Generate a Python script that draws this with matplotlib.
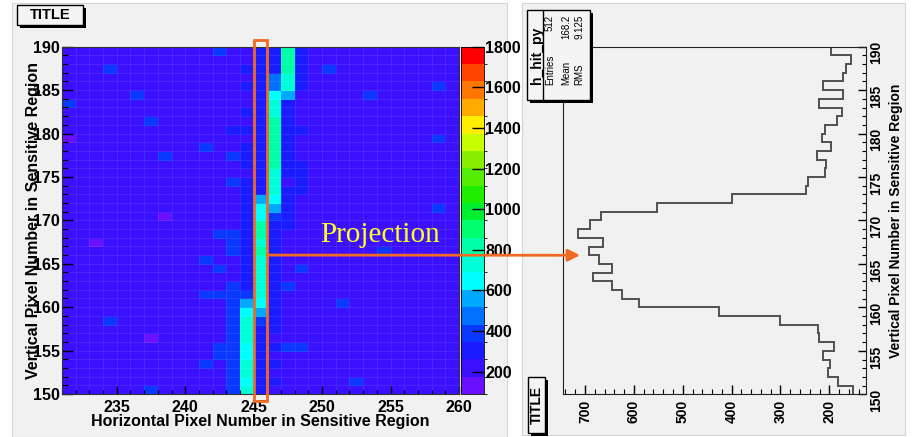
import numpy as np
import matplotlib
matplotlib.use('Agg')
import matplotlib.pyplot as plt
from matplotlib.colors import ListedColormap, BoundaryNorm
from matplotlib.patches import Rectangle
from matplotlib.ticker import MultipleLocator

# pixel bins of the sensitive region
x_edges = np.arange(231, 261)
y_edges = np.arange(150, 191)

# colour band of every cell, top row (189) first
# columns: 231-240 | 241-248 | 249-259
cell_bands = [
    "1111111111 13112282 11111111111",  # 189
    "1111111111 11112282 11111111111",  # 188
    "1113111111 11122282 13111111111",  # 187
    "1111111111 11112472 11111111111",  # 186
    "1111111111 11122472 11111111131",  # 185
    "1111131111 11112651 11113111111",  # 184
    "3111111111 11112721 11111111111",  # 183
    "1111111111 11122721 11111111111",  # 182
    "1111113111 11112821 11111111111",  # 181
    "1111111111 11222822 11111111111",  # 180
    "0111111111 11112821 11111111131",  # 179
    "1111111111 31122821 11111111111",  # 178
    "1111111311 11322821 11111111111",  # 177
    "1111111111 11122822 11111111111",  # 176
    "1111111111 11112722 11111111111",  # 175
    "1111111111 11322712 11111111111",  # 174
    "1111111111 11122722 11111111111",  # 173
    "1111111111 11125621 11111111111",  # 172
    "1111111111 11126521 11111111131",  # 171
    "1111111011 11126321 11111111111",  # 170
    "1111111111 11128221 11111111111",  # 169
    "1111111111 13328211 11111111111",  # 168
    "1101111111 11327211 11111111111",  # 167
    "1111111111 11328211 11111311111",  # 166
    "1111111111 31127211 11111111111",  # 165
    "1111111111 13127213 11111111111",  # 164
    "1111111111 11127211 11111111111",  # 163
    "1111111111 11327231 11111111111",  # 162
    "1111111111 33337211 11111111111",  # 161
    "1111111111 11356211 11311111111",  # 160
    "1111111111 11365211 11111111111",  # 159
    "1113111111 11373211 11111111111",  # 158
    "1111111111 11372211 11111111111",  # 157
    "1111110111 11372111 11111111111",  # 156
    "1111111111 13362233 11111111111",  # 155
    "1111111111 13362111 11111111111",  # 154
    "1111111111 31372211 11111111111",  # 153
    "1111111111 11372111 11111111111",  # 152
    "1111111111 11362211 11131111111",  # 151
    "1111113111 11372111 11111111111",  # 150
]

band_colors = ['#6a10ff', '#3a10ff', '#1a1cff', '#0a38ff', '#0070ff',
               '#00a8ff', '#00ffff', '#00ffd8', '#00ffa8', '#00ff70',
               '#00ee30', '#20ee00', '#55ee00', '#88ee00', '#c8ff00',
               '#ffee00', '#ffaa00', '#ff7700', '#ff4400', '#ff0000']
z_min, z_max = 90, 1800
cbar_ticks = [200, 400, 600, 800, 1000, 1200, 1400, 1600, 1800]

# h_hit_py: projection of column 245, bins 150..189
proj_counts = [151, 182, 202, 198, 213, 191, 221, 224, 301, 425,
               589, 624, 645, 684, 644, 671, 691, 663, 715, 690,
               668, 553, 400, 248, 243, 209, 206, 226, 196, 216,
               208, 185, 175, 221, 173, 213, 172, 165, 155, 196]
stats_labels = ['Entries', 'Mean', 'RMS']
stats_values = ['512', '168.2', '9.125']

plt.rcParams['font.family'] = 'Liberation Sans'
plt.rcParams['font.weight'] = 'bold'
plt.rcParams['axes.labelweight'] = 'bold'

W, H = 913, 437
fig = plt.figure(figsize=(W / 100, H / 100), dpi=100)
fig.patch.set_facecolor('white')


def box(x0, y0, x1, y1):
    # pixel box (top-left origin) -> figure fraction rect
    return [x0 / W, 1 - y1 / H, (x1 - x0) / W, (y1 - y0) / H]


def panel_box(x0, y0, x1, y1, z=5, fc='#f4f4f4'):
    r = box(x0, y0, x1, y1)
    fig.patches.append(Rectangle((r[0] + 2.5 / W, r[1] - 2.5 / H), r[2], r[3],
                                 transform=fig.transFigure, fc='black', ec='none', zorder=z))
    fig.patches.append(Rectangle((r[0], r[1]), r[2], r[3], transform=fig.transFigure,
                                 fc=fc, ec='black', lw=1.0, zorder=z + 0.1))


# grey pads
for pad in [box(12, 3, 507, 437), box(522, 3, 905, 435)]:
    fig.patches.append(Rectangle((pad[0], pad[1]), pad[2], pad[3], transform=fig.transFigure,
                                 fc='#f1f1f1', ec='#d4d4d4', lw=0.8, zorder=-10))

# ---- 2D hit map ----
bands = np.array([[int(c, 36) for c in row.replace(' ', '')] for row in cell_bands])[::-1]
levels = np.linspace(z_min, z_max, len(band_colors) + 1)
Z = levels[bands] + (levels[1] - levels[0]) / 2
cmap = ListedColormap(band_colors)
norm = BoundaryNorm(levels, cmap.N)

ax1 = fig.add_axes(box(62, 46.7, 459, 394))
mesh = ax1.pcolormesh(x_edges, y_edges, Z, cmap=cmap, norm=norm,
                      edgecolors=(1, 1, 1, 0.09), linewidth=0.5)
ax1.set_xlim(231, 260)
ax1.set_ylim(150, 190)
ax1.xaxis.set_major_locator(MultipleLocator(5))
ax1.xaxis.set_minor_locator(MultipleLocator(1))
ax1.yaxis.set_major_locator(MultipleLocator(5))
ax1.yaxis.set_minor_locator(MultipleLocator(1))
ax1.tick_params(axis='x', which='major', direction='in', length=6, width=1, labelsize=11.5, pad=4)
ax1.tick_params(axis='x', which='minor', direction='in', length=3, width=0.8)
ax1.tick_params(axis='y', which='major', direction='in', length=8, width=1, labelsize=11.5, pad=1.5)
ax1.tick_params(axis='y', which='minor', direction='in', length=4.3, width=0.8)
for s in ax1.spines.values():
    s.set_color('#333333')
ax1.set_xlabel('Horizontal Pixel Number in Sensitive Region', fontsize=11.5, va='center')
ax1.xaxis.set_label_coords(0.5, -0.078)
ax1.set_ylabel('Vertical Pixel Number in Sensitive Region', fontsize=11.5, va='center')
ax1.yaxis.set_label_coords(-0.073, 0.5)

ax1.add_patch(Rectangle((245, 149.2), 1, 41.6, fill=False, ec='#f26a22', lw=2.0,
                        clip_on=False, zorder=5))
ax1.text(249.85, 167.5, 'Projection', family='Liberation Serif', weight='normal',
         fontsize=21, color='#ffff22', zorder=6)

cax = fig.add_axes(box(461, 46.7, 484, 394))
cb = fig.colorbar(mesh, cax=cax, ticks=cbar_ticks)
cb.outline.set_linewidth(0.6)
cax.tick_params(direction='in', length=8.5, width=1, labelsize=11.5, pad=1)

# ---- projection histogram (canvas turned by 90 degrees) ----
ax2 = fig.add_axes(box(563, 46.7, 866, 394.3))
ax2.set_facecolor('none')
ax2.stairs(proj_counts, y_edges, orientation='horizontal', baseline=None,
           color='#505050', lw=1.4)
ax2.set_xlim(745, 125)
ax2.set_ylim(150, 190)
ax2.yaxis.tick_right()
ax2.xaxis.set_major_locator(MultipleLocator(100))
ax2.xaxis.set_minor_locator(MultipleLocator(20))
ax2.yaxis.set_major_locator(MultipleLocator(5))
ax2.yaxis.set_minor_locator(MultipleLocator(1))
ax2.tick_params(axis='x', which='major', direction='in', length=6.5, width=1,
                labelsize=10, labelrotation=90, pad=4)
ax2.tick_params(axis='x', which='minor', direction='in', length=3.5, width=0.8)
ax2.tick_params(axis='y', which='major', direction='in', length=6, width=1,
                labelsize=10, labelrotation=90, pad=2)
ax2.tick_params(axis='y', which='minor', direction='in', length=3, width=0.8)
for s in ax2.spines.values():
    s.set_color('#222222')
ax2.yaxis.set_label_position('right')
ax2.set_ylabel('Vertical Pixel Number in Sensitive Region', fontsize=10,
               rotation=90, va='center')
ax2.yaxis.set_label_coords(1.099, 0.5)

ax2.annotate('', xy=(710, 166), xycoords='data', xytext=(246, 166),
             textcoords=ax1.transData,
             arrowprops=dict(arrowstyle='-|>', color='#f26a22', lw=2.0,
                             mutation_scale=18, shrinkA=0, shrinkB=0))

# title boxes
panel_box(17, 5, 83, 25)
fig.text(50 / W, 1 - 15 / H, 'TITLE', ha='center', va='center', fontsize=10.5, zorder=7)
panel_box(528, 377, 545, 433)
fig.text(536.5 / W, 1 - 405 / H, 'TITLE', ha='center', va='center', fontsize=10,
         rotation=90, zorder=7)

# stats box
panel_box(527, 10, 590, 100)
fig.text(536.5 / W, 1 - 55 / H, 'h_hit_py', ha='center', va='center', fontsize=10,
         rotation=90, zorder=7)
fig.add_artist(plt.Line2D([543 / W, 543 / W], [1 - 10 / H, 1 - 100 / H],
                          color='black', lw=1.0, zorder=7))
for xc, lab, val in zip([550, 566, 579], stats_labels, stats_values):
    fig.text(xc / W, 1 - 85 / H, lab, ha='center', va='bottom', fontsize=7,
             weight='normal', rotation=90, zorder=7)
    fig.text(xc / W, 1 - 15 / H, val, ha='center', va='top', fontsize=7,
             weight='normal', rotation=90, zorder=7)

fig.savefig('out.png', dpi=100)
